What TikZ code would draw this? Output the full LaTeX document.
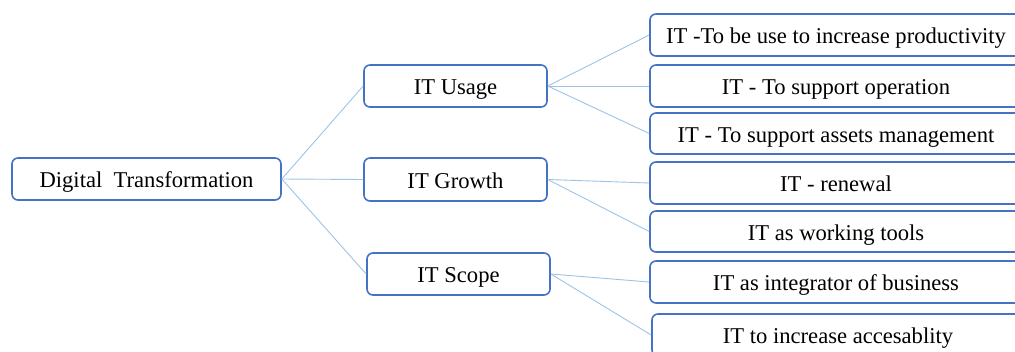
\documentclass[tikz,border=0pt]{standalone}
\usepackage{fontspec}
\setmainfont{Liberation Serif}
\definecolor{boxblue}{HTML}{4472C4}
\definecolor{linkblue}{HTML}{9DC3E6}
\begin{document}
\begin{tikzpicture}[x=1pt,y=-1pt,
  box/.style={draw=boxblue, line width=1.6pt, rounded corners=6pt, fill=white,
    inner sep=0pt, minimum height=42pt, text height=20pt, text depth=3pt,
    font=\fontsize{22.6}{24}\selectfont, anchor=center},
  midbox/.style={box, minimum width=183pt},
  leafbox/.style={box, minimum width=372pt},
  link/.style={draw=linkblue, line width=0.9pt}]
\useasboundingbox (0,0) rectangle (1015,351);
\clip (0,0) rectangle (1015,351);
\node[box, minimum width=269pt] (dt) at (146.5,179) {Digital\ \ Transformation};
\node[midbox] (usage) at (455.5,86) {IT Usage};
\node[midbox, minimum height=43pt] (growth) at (455.5,179.5) {IT Growth};
\node[midbox] (scope) at (458.5,274) {IT Scope};
\node[leafbox] (r1) at (836,35) {IT -To be use to increase productivity};
\node[leafbox] (r2) at (836,86) {IT - To support operation};
\node[leafbox, minimum height=41pt] (r3) at (836,133.5) {IT - To support assets management};
\node[leafbox] (r4) at (836,183) {IT - renewal};
\node[leafbox, minimum height=41pt] (r5) at (836,231.5) {IT as working tools};
\node[leafbox] (r6) at (836,282) {IT as integrator of business};
\node[leafbox] (r7) at (838,335) {IT to increase accesablity};
\draw[link] (dt.east) -- (usage.west);
\draw[link] (dt.east) -- (growth.west);
\draw[link] (dt.east) -- (scope.west);
\draw[link] (usage.east) -- (r1.west);
\draw[link] (usage.east) -- (r2.west);
\draw[link] (usage.east) -- (r3.west);
\draw[link] (growth.east) -- (r4.west);
\draw[link] (growth.east) -- (r5.west);
\draw[link] (scope.east) -- (r6.west);
\draw[link] (scope.east) -- (r7.west);
\end{tikzpicture}
\end{document}
